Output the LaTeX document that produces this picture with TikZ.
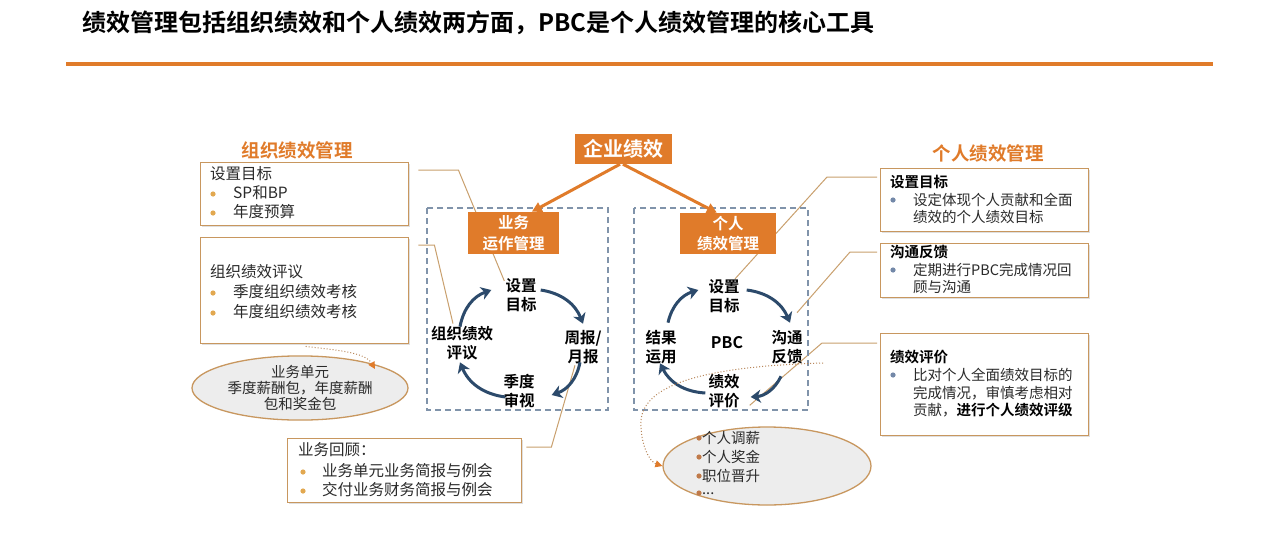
\documentclass[tikz,border=0pt]{standalone}
\usepackage{fontspec}
\setmainfont{Noto Sans CJK SC}[BoldFont={Noto Sans CJK SC Bold}]
\usetikzlibrary{arrows.meta,shapes.geometric,shadows,calc,backgrounds}
\definecolor{org}{HTML}{E07B2A}
\definecolor{tanc}{HTML}{C9A06E}
\definecolor{bord}{HTML}{C8975F}
\definecolor{navy}{HTML}{2C4A6B}
\definecolor{dashc}{HTML}{8093AA}
\definecolor{txt}{HTML}{2A2A2A}
\definecolor{gold}{HTML}{E2A850}
\definecolor{bl}{HTML}{7388A8}
\definecolor{ellf}{HTML}{EDEDED}
\definecolor{dotc}{HTML}{B8865A}
\definecolor{brn}{HTML}{C07A4A}
\newcommand\myfs[2]{\fontsize{#1}{#2}\selectfont}
\begin{document}
\begin{tikzpicture}[x=1pt,y=-1pt,
  every node/.style={text=txt},
  obox/.style={fill=org, text=white, inner sep=0pt, align=center, font=\myfs{15.5}{20.5}\bfseries},
  ibox/.style={draw=bord, line width=1.4pt, fill=white, anchor=north west, inner sep=0pt,
     drop shadow={opacity=0.25, shadow xshift=1.5pt, shadow yshift=-1.5pt}},
  cyclbl/.style={font=\myfs{15.5}{19.5}\bfseries, align=center, inner sep=1pt, text=black},
  cyc/.style={draw=navy, line width=3pt, -{Stealth[length=10pt,width=13pt,inset=3pt]}},
  conn/.style={draw=tanc, line width=1pt},
  dots/.style={draw=dotc, dotted, line width=1pt, -{Triangle[length=7pt,width=7pt,fill=org,color=org]}},
  bt/.style={anchor=west, inner sep=0pt, font=\myfs{15.5}{19}},
  rt/.style={anchor=west, inner sep=0pt, font=\myfs{14.5}{17}},
  rh/.style={anchor=west, inner sep=0pt, font=\myfs{14.5}{17}\bfseries, text=black},
  ell/.style={ellipse, draw=bord, line width=1.3pt, fill=ellf, inner sep=0pt}
]
\useasboundingbox (0,0) rectangle (1280,544);
\begin{pgfonlayer}{background}
\fill[white] (0,0) rectangle (1280,544);
\end{pgfonlayer}

% title and rule
\node[anchor=west, inner sep=0pt, font=\myfs{24}{28}\bfseries, text=black] (title) at (82,23)
  {绩效管理包括组织绩效和个人绩效两方面，PBC是个人绩效管理的核心工具};
\coordinate (lineA) at (66,64);
\coordinate (lineB) at (1213,64);
\draw[org, line width=4.5pt] (lineA) -- (lineB);

% headings
\node[font=\myfs{18.5}{20}\bfseries, text=org] (hL) at (297,150) {组织绩效管理};
\node[font=\myfs{18.5}{20}\bfseries, text=org] (hR) at (988,153) {个人绩效管理};

% info boxes
\node[ibox, minimum width=208, minimum height=63] (L1) at (200,162) {};
\node[ibox, minimum width=208, minimum height=106] (L2) at (200,237) {};
\node[ibox, minimum width=234, minimum height=64] (B1) at (287,438) {};
\node[ibox, minimum width=208, minimum height=63] (R1) at (880,168) {};
\node[ibox, minimum width=208, minimum height=54] (R2) at (880,243) {};
\node[ibox, minimum width=208, minimum height=102] (R3) at (880,333) {};

% left box texts
\node[bt] (t11) at (210,174) {设置目标};
\node[bt] (t12) at (233,193) {SP和BP};
\node[bt] (t13) at (233,212) {年度预算};
\fill[gold] (213,194) circle (2.6);
\fill[gold] (213,213) circle (2.6);
\node[bt] (t21) at (210,272) {组织绩效评议};
\node[bt] (t22) at (233,292) {季度组织绩效考核};
\node[bt] (t23) at (233,312) {年度组织绩效考核};
\fill[gold] (213,293) circle (2.6);
\fill[gold] (213,313) circle (2.6);
\node[bt] (t31) at (298,450) {业务回顾：};
\node[bt] (t32) at (322,471) {业务单元业务简报与例会};
\node[bt] (t33) at (322,490) {交付业务财务简报与例会};
\fill[gold] (303,472) circle (2.6);
\fill[gold] (303,491) circle (2.6);

% right box texts
\node[rh] (r11) at (890,182) {设置目标};
\fill[bl] (893,200) circle (2.6);
\node[rt] (r12) at (913,200) {设定体现个人贡献和全面};
\node[rt] (r13) at (913,217) {绩效的个人绩效目标};
\node[rh] (r21) at (890,252) {沟通反馈};
\fill[bl] (893,270) circle (2.6);
\node[rt] (r22) at (913,270) {定期进行PBC完成情况回};
\node[rt] (r23) at (913,287) {顾与沟通};
\node[rh] (r31) at (890,357) {绩效评价};
\fill[bl] (893,375) circle (2.6);
\node[rt] (r32) at (913,375) {比对个人全面绩效目标的};
\node[rt] (r33) at (913,393) {完成情况，审慎考虑相对};
\node[rt] (r34) at (913,410) {贡献，\textbf{\color{black}进行个人绩效评级}};

% ellipses
\node[ell, minimum width=216, minimum height=50, align=center, font=\myfs{14.5}{16}] (eL) at (300,388)
  {业务单元\\季度薪酬包，年度薪酬\\包和奖金包};
\node[ell, minimum width=208, minimum height=78] (eR) at (767,466) {};
\node[rt] (e1) at (702,438) {个人调薪};
\node[rt] (e2) at (702,457) {个人奖金};
\node[rt] (e3) at (702,476) {职位晋升};
\node[rt] (e4) at (702,494) {...};
\fill[brn] (699,438) circle (2.6);
\fill[brn] (699,457) circle (2.6);
\fill[brn] (699,476) circle (2.6);
\fill[brn] (699,493) circle (2.6);

% dashed frames
\draw[dashc, line width=1.2pt, dash pattern=on 6pt off 4pt] (427,208) rectangle (608,410);
\draw[dashc, line width=1.2pt, dash pattern=on 6pt off 4pt] (634,208) rectangle (808,410);

% orange boxes
\node[fill=org, text=white, inner sep=0pt, font=\myfs{20}{22}\bfseries, minimum width=97, minimum height=30] (qy) at (623,149) {企业绩效};
\node[obox, minimum width=91, minimum height=42] (yw) at (513.5,233) {业务\\运作管理};
\node[obox, minimum width=96, minimum height=41] (gr) at (728,233.5) {个人\\绩效管理};
\draw[org, line width=3pt, -{Triangle[length=10pt,width=10pt]}] ($(qy.south)+(-3,0)$) -- ($(yw.north)!0.4!(yw.north east)$);
\draw[org, line width=3pt, -{Triangle[length=10pt,width=10pt]}] ($(qy.south)+(0,0)$) -- ($(gr.north)!0.23!(gr.north west)$);

% cycle labels
\node[cyclbl] (sL) at (521,295) {设置\\目标};
\node[cyclbl] (wL) at (583,347) {周报/\\月报};
\node[cyclbl] (jL) at (519,391) {季度\\审视};
\node[cyclbl] (zL) at (462,343) {组织绩效\\评议};
\node[cyclbl] (sR) at (724,296) {设置\\目标};
\node[cyclbl] (gR) at (787,347) {沟通\\反馈};
\node[cyclbl] (jR) at (724,391) {绩效\\评价};
\node[cyclbl] (yR) at (661,347) {结果\\运用};
\node[cyclbl, font=\myfs{16}{19}\bfseries] (pbc) at (727,343) {PBC};

% cycle arrows
\draw[cyc] ($(sL.east)+(3,-5)$) to[bend left=30] ($(wL.north)+(0,-5)$);
\draw[cyc] ($(wL.south)+(-3,-3)$) to[bend left=30] ($(jL.east)+(16,4)$);
\draw[cyc] ($(jL.west)+(3,6)$) to[bend left=30] ($(zL.south)+(-2,1)$);
\draw[cyc] ($(zL.north)+(-2,2)$) to[bend left=30] ($(sL.west)+(-13,-5)$);
\draw[cyc] ($(sR.east)+(6,-6)$) to[bend left=30] ($(gR.north)+(3,-6)$);
\draw[cyc] ($(gR.south)+(-6,11)$) to[bend left=30] ($(jR.east)+(10,6)$);
\draw[cyc] ($(jR.west)+(-2,2)$) to[bend left=30] ($(yR.south)+(-1,-2)$);
\draw[cyc] ($(yR.north)+(7,-6)$) to[bend left=30] ($(sR.west)+(-9,-6)$);

% connectors behind
\begin{pgfonlayer}{background}
\draw[conn] ($(L1.north east)+(9,8)$) -- ++(40,0) -- ($(sL.north west)+(0,4)$);
\draw[conn] ($(L2.north east)+(9,8)$) -- ++(16,0) -- ($(zL.north)+(-9,-1)$);
\draw[conn] ($(B1.north east)+(4,9)$) -- ++(25,0) -- ($(wL.south)+(-8,0)$);
\draw[conn] ($(R1.north west)+(-3,9)$) -- ++(-50,0) -- ($(sR.north)+(11,1)$);
\draw[conn] ($(R2.north west)+(-3,9)$) -- ++(-27,0) -- ($(gR.north)+(10,-16)$);
\draw[conn] ($(R3.north west)+(-3,10)$) -- ++(-55,0) -- ($(jR.south east)+(9,-4)$);
\end{pgfonlayer}

% dotted arrows
\draw[dots] ($(L2.south)+(1,2)$) .. controls (335,350) and (365,352) .. ($(eL.center)+(75,-19)$);
\coordinate (dS) at (823,363);
\draw[dots] (dS) .. controls (720,366) and (645,380) .. (641,420) .. controls (640,445) and (650,462) .. (eR.west);
\end{tikzpicture}
\end{document}
